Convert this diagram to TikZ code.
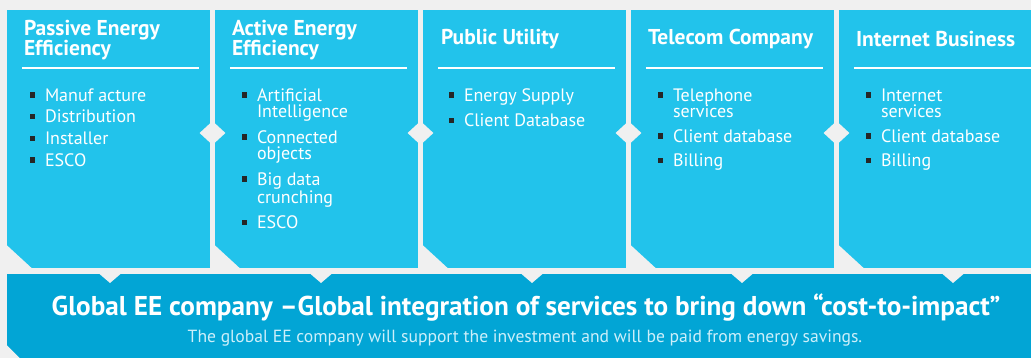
\documentclass[tikz,border=0pt]{standalone}
\usepackage{fontspec}
\setmainfont{PT Sans}
\usetikzlibrary{positioning, shapes.geometric}

\definecolor{bgray}{HTML}{F0F0F0}
\definecolor{ecyan}{HTML}{22C3EB}
\definecolor{eblue}{HTML}{02A5D5}
\definecolor{esub}{HTML}{CDEFFA}

\tikzstyle{box} = [rectangle, fill = ecyan, minimum width = 203pt, minimum height = 258pt, inner sep = 0pt]
\tikzstyle{banner} = [rectangle, fill = eblue, minimum width = 1024pt, minimum height = 84pt, inner sep = 0pt]
\tikzstyle{head} = [anchor = west, text = white, font = \bfseries\fontsize{21.5}{20}\selectfont, align = left, inner sep = 0pt]
\tikzstyle{items} = [anchor = north west, text = white, font = \fontsize{18}{16.5}\selectfont, align = left, inner sep = 0pt]
\tikzstyle{rule} = [draw = white, line width = 1.5pt]
\tikzstyle{cut} = [fill = bgray]
\tikzstyle{gem} = [diamond, fill = bgray, minimum width = 26pt, minimum height = 24pt, inner sep = 0pt]

\newcommand{\bul}{\llap{\raisebox{3.5pt}{\color{black!85}\rule{5.5pt}{5.5pt}}\hspace{10pt}}}

\begin{document}
\begin{tikzpicture}[x = 1pt, y = -1pt, node distance = 208pt]
    \fill[bgray] (0, 0) rectangle (1031, 358);
    \useasboundingbox (0, 0) rectangle (1031, 358);
    % the five columns
    \node(passive)[box] at (108.5, 139) {};
    \node(active)[box, right of = passive] {};
    \node(utility)[box, right of = active] {};
    \node(telecom)[box, right of = utility] {};
    \node(internet)[box, minimum width = 192pt, right of = telecom, xshift = -5.5pt] {};
    \foreach \b in {passive, active, utility, telecom, internet}
        \fill[cut] (\b.south west) -- +(0, -23) -- +(25, 0) -- cycle;
    \foreach \b/\e in {passive/11, active/11, utility/11, telecom/11, internet/0}
        \draw[rule] ([xshift = 15pt, yshift = -58pt]\b.north west) -- ([xshift = -\e pt, yshift = -58pt]\b.north east);
    \foreach \b in {passive, active, utility, telecom}
        \node(gem\b)[gem, right of = \b, node distance = 104pt, yshift = 6pt] {};
    % headings
    \node(hpassive)[head] at ([xshift = 17pt, yshift = -30pt]passive.north west) {Passive Energy\\Efficiency};
    \node(hactive)[head] at ([xshift = 17pt, yshift = -30pt]active.north west) {Active Energy\\Efficiency};
    \node(hutility)[head] at ([xshift = 18pt, yshift = -29.5pt]utility.north west) {Public Utility};
    \node(htelecom)[head] at ([xshift = 17pt, yshift = -29.5pt]telecom.north west) {Telecom Company};
    \node(hinternet)[head] at ([xshift = 17pt, yshift = -29.5pt]internet.north west) {Internet Business};
    % lists
    \node(ipassive)[items, font = \fontsize{18}{21.7}\selectfont] at ([xshift = 38pt, yshift = -78.5pt]passive.north west)
        {\bul Manuf acture\\\bul Distribution\\\bul Installer\\\bul ESCO};
    \node(iactive)[items] at ([xshift = 42pt, yshift = -78.5pt]active.north west)
        {\bul Artificial\\Intelligence\\[8pt]\bul Connected\\objects\\[8pt]\bul Big data\\crunching\\[8pt]\bul ESCO};
    \node(iutility)[items] at ([xshift = 41pt, yshift = -78.5pt]utility.north west)
        {\bul Energy Supply\\[8pt]\bul Client Database};
    \node(itelecom)[items] at ([xshift = 42pt, yshift = -78.5pt]telecom.north west)
        {\bul Telephone\\services\\[8pt]\bul Client database\\[8pt]\bul Billing};
    \node(iinternet)[items] at ([xshift = 42pt, yshift = -78.5pt]internet.north west)
        {\bul Internet\\services\\[8pt]\bul Client database\\[8pt]\bul Billing};
    % bottom banner
    \node(global)[banner] at (519, 316) {};
    \fill[cut] (global.south west) -- +(0, -13) -- +(13, 0) -- cycle;
    \foreach \x in {110, 321, 532, 742, 953}
        \fill[cut] (\x - 10.5, 274) -- (\x + 10.5, 274) -- (\x, 283) -- cycle;
    \node(title)[anchor = base, text = white, font = \bfseries\fontsize{27.2}{30}\selectfont] at (526, 315)
        {Global EE company –Global integration of services to bring down “cost-to-impact”};
    \node(subtitle)[anchor = base, text = esub, font = \fontsize{17.6}{20}\selectfont] at (525, 342)
        {The global EE company will support the investment and will be paid from energy savings.};
\end{tikzpicture}
\end{document}
